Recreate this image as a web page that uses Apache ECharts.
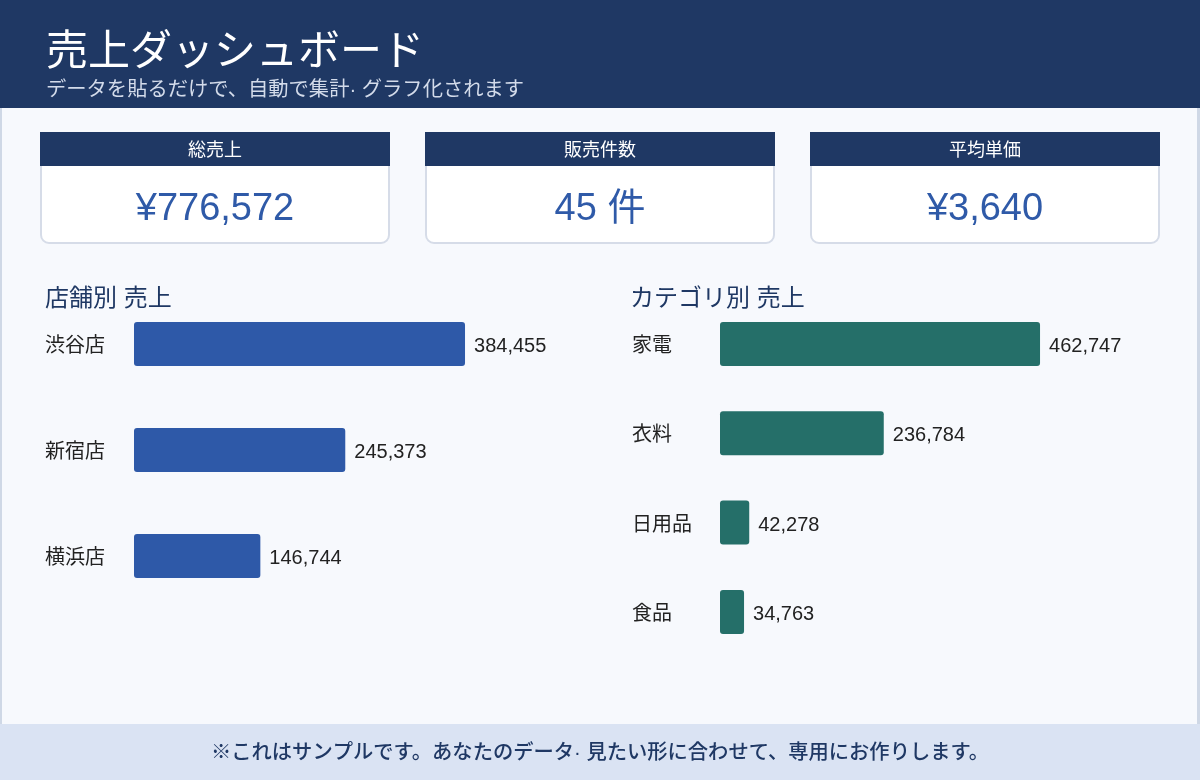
<!DOCTYPE html>
<html>
<head>
<meta charset="utf-8">
<script src="https://cdn.jsdelivr.net/npm/echarts@6.0.0/dist/echarts.min.js"></script>
<style>
  html, body { margin: 0; padding: 0; background: #f7f9fd; }
  #main { width: 1200px; height: 780px; }
</style>
</head>
<body>
<div id="main"></div>
<script>
// データ
const pageTitle = '売上ダッシュボード';
const pageSubtitle = 'データを貼るだけで、自動で集計· グラフ化されます';
const footerNote = '※これはサンプルです。あなたのデータ· 見たい形に合わせて、専用にお作りします。';

const kpiTitles = ['総売上', '販売件数', '平均単価'];
const kpiValues = ['¥776,572', '45 件', '¥3,640'];

const storeNames = ['渋谷店', '新宿店', '横浜店'];
const storeSales = [384455, 245373, 146744];

const categoryNames = ['家電', '衣料', '日用品', '食品'];
const categorySales = [462747, 236784, 42278, 34763];

const NAVY = '#1f3864';
const FONT = "'Liberation Sans', 'Noto Sans CJK JP', sans-serif";

// テキスト用の小さなヘルパー
const txt = (text, x, y, size, fill, align, extra) => ({
    type: 'text',
    style: Object.assign({
        text: text, x: x, y: y, fill: fill, fontSize: size, fontFamily: FONT,
        align: align, verticalAlign: 'middle', textAlign: align, textVerticalAlign: 'middle'
    }, extra || {})
});

// 見出し・カード・フッター
let graphics = [
    { type: 'rect', shape: { x: 0, y: 108, width: 1200, height: 616 }, style: { fill: '#f7f9fd' }, z: -10 },
    { type: 'rect', shape: { x: 0, y: 108, width: 2, height: 616 }, style: { fill: '#cfd8e6' }, z: -9 },
    { type: 'rect', shape: { x: 1197, y: 108, width: 3, height: 616 }, style: { fill: '#cfd8e6' }, z: -9 },
    { type: 'rect', shape: { x: 0, y: 0, width: 1200, height: 108 }, style: { fill: NAVY } },
    txt(pageTitle, 46, 53, 42, '#fff', 'left'),
    txt(pageSubtitle, 46, 90, 20.3, '#d3dbea', 'left'),
    { type: 'rect', shape: { x: 0, y: 724, width: 1200, height: 56 }, style: { fill: '#dae3f3' } },
    txt(footerNote, 600, 753, 20.3, NAVY, 'center', { fontWeight: 500 }),
    txt('店舗別 売上', 45, 299, 24, NAVY, 'left'),
    txt('カテゴリ別 売上', 630, 299, 24, NAVY, 'left')
];

kpiTitles.forEach((t, i) => {
    const x = 40 + i * 385;
    graphics.push(
        { type: 'rect', shape: { x: x + 1, y: 133, width: 348, height: 110, r: [0, 0, 8, 8] },
          style: { fill: '#fff', stroke: '#d6dce8', lineWidth: 2 } },
        { type: 'rect', shape: { x: x, y: 132, width: 350, height: 34 }, style: { fill: NAVY } },
        txt(t, x + 175, 151, 18, '#fff', 'center'),
        txt(kpiValues[i], x + 175, 210, 38, '#2f5aa8', 'center')
    );
});

const barLabel = {
    show: true,
    position: 'right',
    distance: 9,
    offset: [0, 2.5],
    color: '#222',
    fontSize: 20,
    fontFamily: FONT,
    formatter: p => p.value.toLocaleString('en-US')
};

const catAxis = (names, gridIndex, margin) => ({
    type: 'category',
    gridIndex: gridIndex,
    data: names,
    inverse: true,
    axisLine: { show: false },
    axisTick: { show: false },
    axisLabel: {
        align: 'left',
        margin: margin,
        formatter: v => '{a|' + v + '}',
        rich: { a: { color: '#222', fontSize: 20, fontFamily: FONT, padding: [5, 0, 0, 0] } }
    }
});

const valAxis = (gridIndex) => ({
    type: 'value',
    gridIndex: gridIndex,
    min: 0,
    max: 500000,
    show: false,
    splitLine: { show: false }
});

let myChart = echarts.init(document.getElementById('main'), null, { renderer: 'canvas' });
let option = {
    backgroundColor: '#f7f9fd',
    animation: false,
    graphic: graphics,
    grid: [
        { left: 134, top: 291, width: 430.5, height: 318 },
        { left: 720, top: 299.3, width: 345.8, height: 357.3 }
    ],
    xAxis: [valAxis(0), valAxis(1)],
    yAxis: [catAxis(storeNames, 0, 89), catAxis(categoryNames, 1, 88)],
    series: [
        {
            type: 'bar',
            xAxisIndex: 0,
            yAxisIndex: 0,
            data: storeSales,
            barWidth: 44,
            itemStyle: { color: '#2e59a8', borderRadius: 3 },
            label: barLabel
        },
        {
            type: 'bar',
            xAxisIndex: 1,
            yAxisIndex: 1,
            data: categorySales,
            barWidth: 44,
            itemStyle: { color: '#256f69', borderRadius: 3 },
            label: barLabel
        }
    ]
};
myChart.setOption(option);
</script>
</body>
</html>
